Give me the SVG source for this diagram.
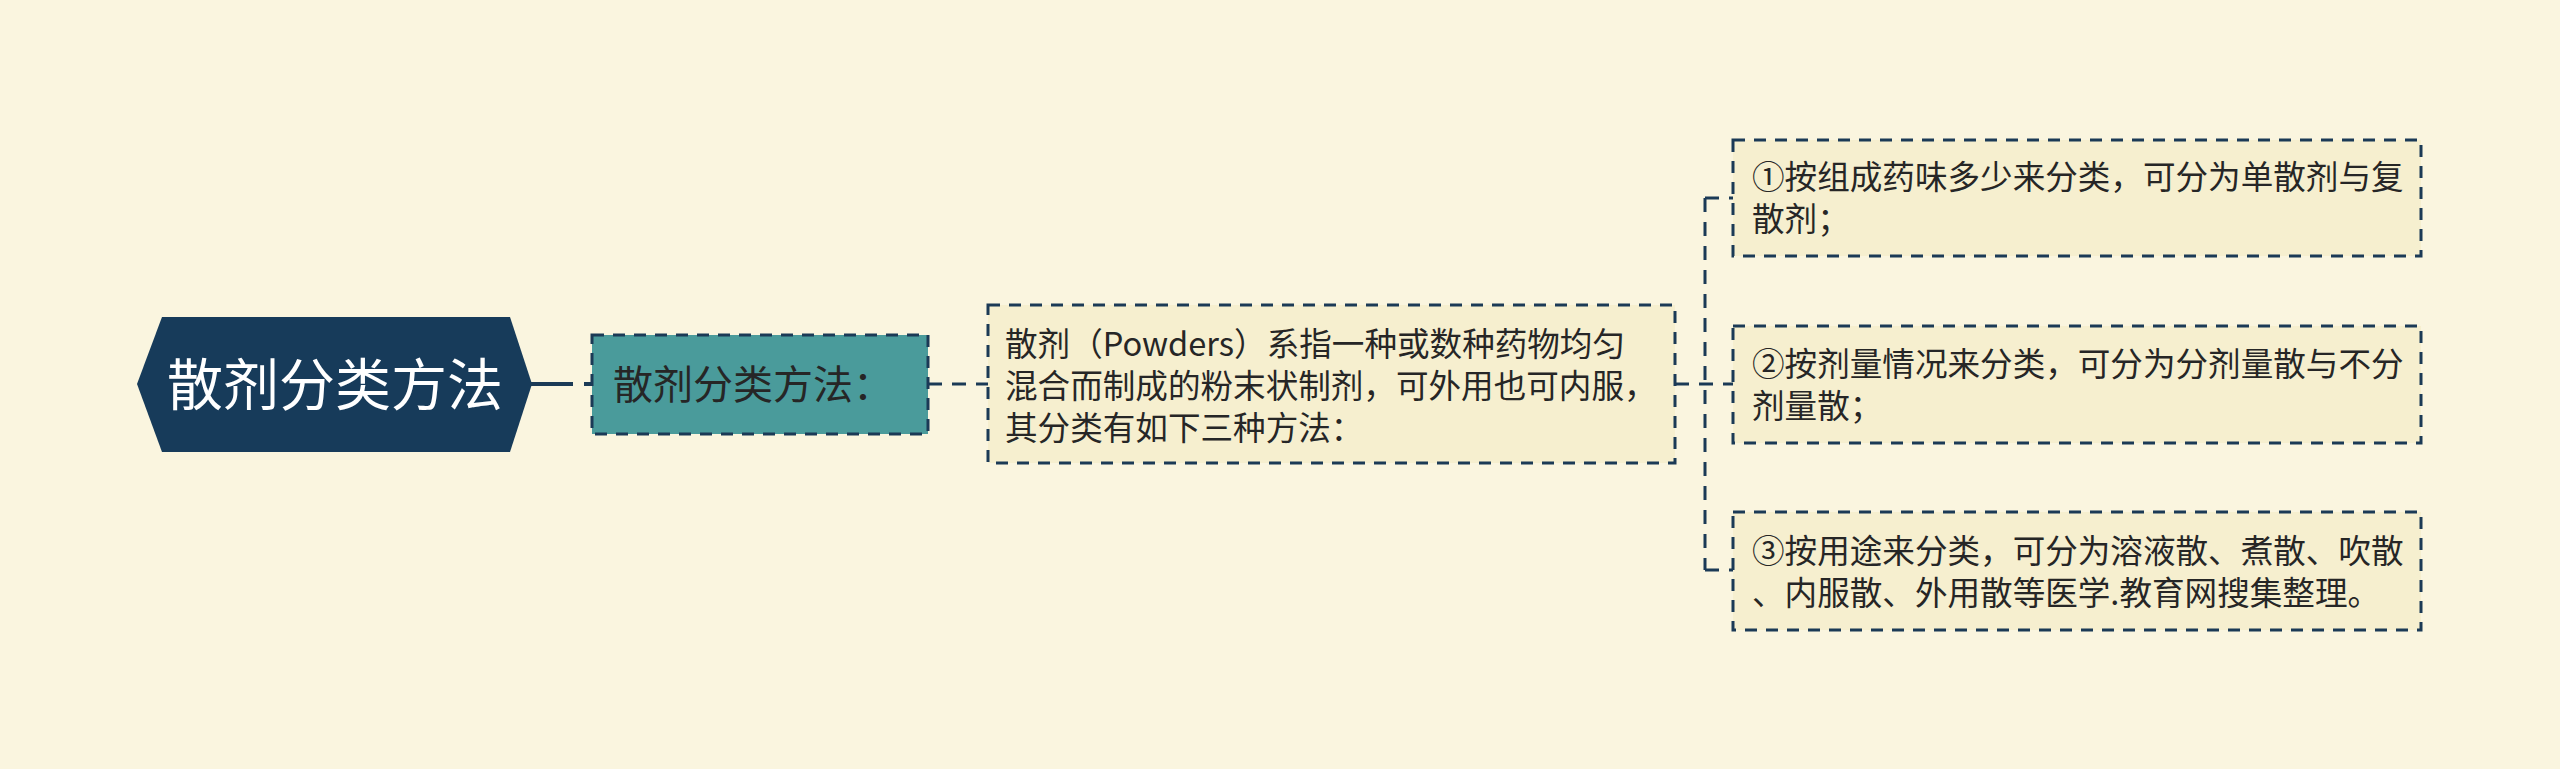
<svg xmlns="http://www.w3.org/2000/svg" width="2560" height="769" viewBox="0 0 2560 769">
<style>
.bg{fill:#faf5df}
.box{fill:#f6efcf;stroke:#1b3a56;stroke-width:3;stroke-dasharray:12 9}
.conn{fill:none;stroke:#1b3a56;stroke-width:3;stroke-dasharray:14 10}
.t{font-family:"Noto Sans CJK SC","Noto Sans",sans-serif;fill:#262626}
</style>
<rect class="bg" x="0" y="0" width="2560" height="769"/>
<g id="connectors">
<line x1="531" y1="384" x2="573" y2="384" stroke="#1b3a56" stroke-width="4"/>
<line x1="584" y1="384" x2="592" y2="384" stroke="#1b3a56" stroke-width="4"/>
<line class="conn" x1="928" y1="384" x2="988" y2="384"/>
<line class="conn" x1="1675" y1="384" x2="1733" y2="384"/>
<line class="conn" x1="1705" y1="198" x2="1705" y2="570"/>
<line class="conn" x1="1705" y1="198" x2="1733" y2="198"/>
<line class="conn" x1="1705" y1="570" x2="1733" y2="570"/>
</g>
<g id="root">
<polygon points="137,384 162,317 510,317 532,384 510,452 162,452" fill="#173b5a"/>
<text class="t" x="335" y="405" font-size="56" style="fill:#ffffff" text-anchor="middle">散剂分类方法</text>
</g>
<g id="topic">
<rect x="592" y="335" width="336" height="99" fill="#4a9b9b" stroke="#1b3a56" stroke-width="3" stroke-dasharray="12 9"/>
<text class="t" x="613" y="399" font-size="40">散剂分类方法：</text>
</g>
<g id="desc">
<rect class="box" x="988" y="305" width="687" height="158"/>
<text class="t" font-size="32.6"><tspan x="1005" y="356">散剂（Powders）系指一种或数种药物均匀</tspan><tspan x="1005" y="398">混合而制成的粉末状制剂，可外用也可内服，</tspan><tspan x="1005" y="440">其分类有如下三种方法：</tspan></text>
</g>
<g id="item1">
<rect class="box" x="1733" y="140" width="688" height="116"/>
<text class="t" font-size="32.6"><tspan x="1752" y="189">①按组成药味多少来分类，可分为单散剂与复</tspan><tspan x="1752" y="231">散剂；</tspan></text>
</g>
<g id="item2">
<rect class="box" x="1733" y="326" width="688" height="117"/>
<text class="t" font-size="32.6"><tspan x="1752" y="376">②按剂量情况来分类，可分为分剂量散与不分</tspan><tspan x="1752" y="418">剂量散；</tspan></text>
</g>
<g id="item3">
<rect class="box" x="1733" y="512" width="688" height="118"/>
<text class="t" font-size="32.6"><tspan x="1752" y="563">③按用途来分类，可分为溶液散、煮散、吹散</tspan><tspan x="1752" y="605">、内服散、外用散等医学.教育网搜集整理。</tspan></text>
</g>
</svg>
